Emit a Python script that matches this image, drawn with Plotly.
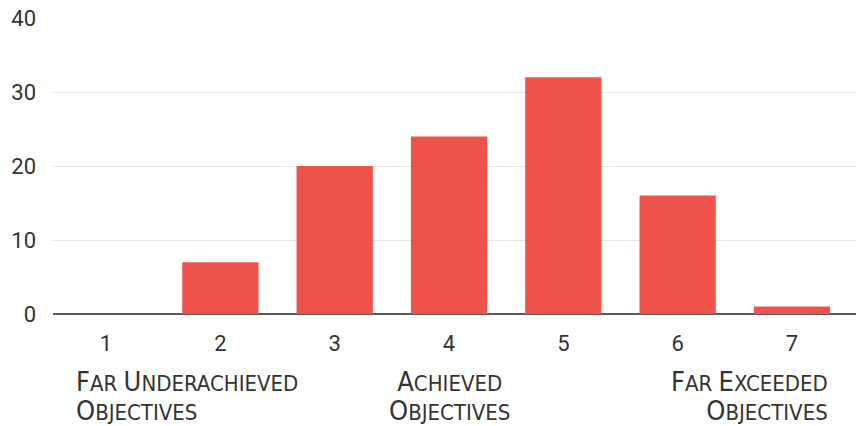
import plotly.graph_objects as go

# Rating scale 1-7 and number of responses per rating
ratings = [1, 2, 3, 4, 5, 6, 7]
counts = [0, 7, 20, 24, 32, 16, 1]
y_ticks = [0, 10, 20, 30, 40]

# Descriptive anchors under the scale: (position on scale, lines of text, alignment)
anchor_pos = [0.72, 4, 7.33]
anchor_lines = [["Far Underachieved", "Objectives"], ["Achieved", "Objectives"], ["Far Exceeded", "Objectives"]]
anchor_align = ["left", "center", "right"]

BAR_COLOR = "#EF524A"
TEXT_COLOR = "#333333"
CAP_SIZE = 27
SMALL_SIZE = 22


def small_caps(line):
    # Initial letters full size, remaining letters as smaller capitals
    words = []
    for w in line.split(" "):
        words.append(
            f"<span style='font-size:{CAP_SIZE}px'>{w[0].upper()}</span>"
            f"<span style='font-size:{SMALL_SIZE}px'>{w[1:].upper()}</span>"
        )
    return " ".join(words)


fig = go.Figure(
    go.Bar(
        x=ratings,
        y=counts,
        width=0.667,
        marker=dict(color=BAR_COLOR, line=dict(width=0)),
        hoverinfo="x+y",
    )
)

for pos, lines, al in zip(anchor_pos, anchor_lines, anchor_align):
    fig.add_annotation(
        x=pos,
        xref="x",
        y=-0.277,
        yref="paper",
        text="<br>".join(small_caps(l) for l in lines),
        showarrow=False,
        xanchor=al,
        yanchor="middle",
        align=al,
        font=dict(family="Liberation Sans Narrow, DejaVu Sans Condensed, sans-serif",
                  size=22, color=TEXT_COLOR),
    )

fig.update_layout(
    width=856,
    height=426,
    margin=dict(l=53, r=0, t=18, b=112),
    paper_bgcolor="white",
    plot_bgcolor="white",
    showlegend=False,
    bargap=0.333,
    font=dict(family="Roboto, sans-serif", size=22, color=TEXT_COLOR),
    xaxis=dict(
        range=[0.536, 7.56],
        tickmode="array",
        tickvals=ratings,
        ticktext=[str(r) for r in ratings],
        showgrid=False,
        zeroline=False,
        showline=False,
        ticks="",
        ticklabelstandoff=14,
        fixedrange=True,
    ),
    yaxis=dict(
        range=[0, 40],
        tickmode="array",
        tickvals=y_ticks,
        showgrid=True,
        gridcolor="#E6E6E6",
        gridwidth=1,
        zeroline=True,
        zerolinecolor="#5A5A5A",
        zerolinewidth=2,
        showline=False,
        ticks="",
        ticklabelstandoff=16,
        fixedrange=True,
    ),
)

fig.write_html("out.html")
